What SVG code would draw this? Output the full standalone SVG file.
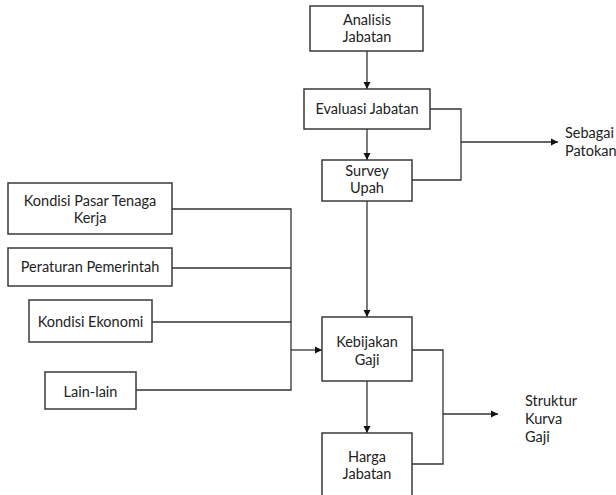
<svg xmlns="http://www.w3.org/2000/svg" width="616" height="495" viewBox="0 0 616 495">
<style>
.box{fill:#fff;stroke:#3a3a3a;stroke-width:1.5}
.t{font-family:Lato,"Open Sans",sans-serif;font-size:14.5px;fill:#222;text-anchor:middle}
.tl{font-family:Lato,"Open Sans",sans-serif;font-size:14.5px;fill:#222}
.c{fill:none;stroke:#333;stroke-width:1.3}
</style>
<defs>
<marker id="ah" markerWidth="8" markerHeight="8" refX="7" refY="4" orient="auto" markerUnits="userSpaceOnUse">
<path d="M0,0.5 L7,4 L0,7.5 Z" fill="#111"/>
</marker>
</defs>
<rect width="616" height="495" fill="#fff"/>
<g id="connectors">
<line class="c" x1="367" y1="51" x2="367" y2="89" marker-end="url(#ah)"/>
<line class="c" x1="367" y1="129" x2="367" y2="160" marker-end="url(#ah)"/>
<line class="c" x1="367" y1="201" x2="367" y2="317" marker-end="url(#ah)"/>
<line class="c" x1="367" y1="381" x2="367" y2="433" marker-end="url(#ah)"/>
<polyline class="c" points="430,109 461,109 461,180 412,180"/>
<line class="c" x1="461" y1="142" x2="558" y2="142" marker-end="url(#ah)"/>
<polyline class="c" points="172,209 291,209 291,390 136,390"/>
<line class="c" x1="172" y1="268" x2="291" y2="268"/>
<line class="c" x1="152" y1="322" x2="291" y2="322"/>
<line class="c" x1="291" y1="350" x2="322" y2="350" marker-end="url(#ah)"/>
<polyline class="c" points="412,350 443,350 443,464 412,464"/>
<line class="c" x1="443" y1="414" x2="498" y2="414" marker-end="url(#ah)"/>
</g>
<g id="analisis">
<rect class="box" x="310" y="6" width="113" height="45"/>
<text class="t" x="367" y="25">Analisis</text>
<text class="t" x="367" y="42">Jabatan</text>
</g>
<g id="evaluasi">
<rect class="box" x="304" y="89" width="126" height="40"/>
<text class="t" x="367" y="114">Evaluasi Jabatan</text>
</g>
<g id="survey">
<rect class="box" x="322" y="160" width="90" height="41"/>
<text class="t" x="367" y="176">Survey</text>
<text class="t" x="367" y="193">Upah</text>
</g>
<g id="kebijakan">
<rect class="box" x="322" y="317" width="90" height="64"/>
<text class="t" x="367" y="347">Kebijakan</text>
<text class="t" x="367" y="365">Gaji</text>
</g>
<g id="harga">
<rect class="box" x="322" y="433" width="90" height="70"/>
<text class="t" x="367" y="462">Harga</text>
<text class="t" x="367" y="479">Jabatan</text>
</g>
<g id="pasar">
<rect class="box" x="8" y="183" width="164" height="51"/>
<text class="t" x="90" y="206">Kondisi Pasar Tenaga</text>
<text class="t" x="90" y="223">Kerja</text>
</g>
<g id="peraturan">
<rect class="box" x="8" y="248" width="164" height="38"/>
<text class="t" x="90" y="272">Peraturan Pemerintah</text>
</g>
<g id="ekonomi">
<rect class="box" x="29" y="300" width="123" height="42"/>
<text class="t" x="90.5" y="327">Kondisi Ekonomi</text>
</g>
<g id="lain">
<rect class="box" x="45" y="372" width="91" height="37"/>
<text class="t" x="90.5" y="397">Lain-lain</text>
</g>
<g id="patokan">
<text class="tl" x="565" y="138">Sebagai</text>
<text class="tl" x="565" y="156">Patokan</text>
</g>
<g id="struktur">
<text class="tl" x="525" y="406">Struktur</text>
<text class="tl" x="525" y="424">Kurva</text>
<text class="tl" x="525" y="442">Gaji</text>
</g>
</svg>
